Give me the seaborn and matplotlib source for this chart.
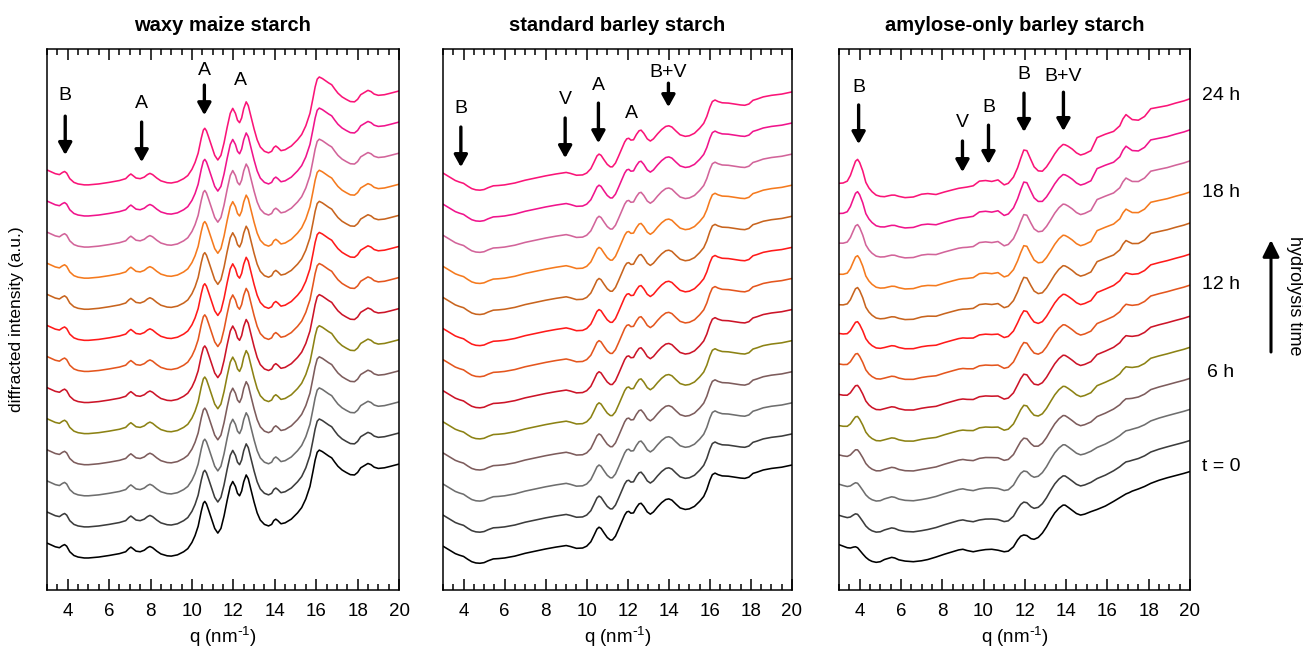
import matplotlib
matplotlib.use("Agg")
import numpy as np
import pandas as pd
import matplotlib.pyplot as plt
import seaborn as sns

# ---------------------------------------------------------------- data
scan_hours = [0, 2, 4, 6, 8, 10, 12, 14, 16, 18, 20, 22, 24]
scan_colors = ["#000000", "#3c3c3c", "#6e6e6e", "#7d5c5c", "#8c8214",
               "#cc1428", "#e4561e", "#ff1a1a", "#c8641e", "#f57a1e",
               "#d2649a", "#f0148c", "#fa1478"]

panel_titles = ["waxy maize starch", "standard barley starch",
                "amylose-only barley starch"]

# waxy maize: diffraction pattern (same for every scan)
waxy_q = [3.0, 3.2, 3.4, 3.6, 3.75, 3.85, 3.95, 4.1, 4.3, 4.5, 4.8, 5.0, 5.5,
          6.0, 6.5, 6.8, 6.95, 7.05, 7.15, 7.3, 7.5, 7.7, 7.85, 7.97, 8.1,
          8.3, 8.5, 8.8, 9.0, 9.3, 9.6, 9.8, 10.0, 10.15, 10.3, 10.45, 10.55,
          10.62, 10.7, 10.8, 10.95, 11.1, 11.25, 11.4, 11.55, 11.7, 11.85,
          11.97, 12.1, 12.2, 12.3, 12.4, 12.5, 12.62, 12.72, 12.85, 13.0,
          13.15, 13.3, 13.5, 13.7, 13.85, 13.95, 14.05, 14.15, 14.3, 14.5,
          14.8, 15.1, 15.3, 15.5, 15.7, 15.85, 15.95, 16.05, 16.15, 16.3,
          16.45, 16.6, 16.75, 16.9, 17.05, 17.25, 17.45, 17.65, 17.85, 18.0,
          18.15, 18.35, 18.5, 18.65, 18.8, 19.0, 19.3, 19.6, 20.0]
waxy_i = [0.48, 0.42, 0.36, 0.33, 0.40, 0.43, 0.38, 0.20, 0.08, 0.03, 0.0,
          0.0, 0.03, 0.08, 0.14, 0.20, 0.30, 0.35, 0.30, 0.22, 0.20, 0.25,
          0.33, 0.37, 0.33, 0.22, 0.13, 0.07, 0.06, 0.10, 0.20, 0.30, 0.50,
          0.72, 1.02, 1.50, 1.76, 1.82, 1.74, 1.55, 1.25, 0.95, 0.80, 0.95,
          1.35, 1.85, 2.30, 2.46, 2.30, 2.08, 2.00, 2.15, 2.45, 2.67, 2.55,
          2.20, 1.80, 1.45, 1.22, 1.08, 1.03, 1.08, 1.20, 1.25, 1.20, 1.10,
          1.13, 1.25, 1.45, 1.62, 1.90, 2.30, 2.80, 3.15, 3.40, 3.47, 3.42,
          3.35, 3.28, 3.22, 3.08, 2.95, 2.83, 2.75, 2.68, 2.67, 2.75, 2.90,
          2.98, 3.04, 3.00, 2.92, 2.88, 2.90, 2.95, 3.02]

# standard barley: diffraction pattern (same for every scan)
std_q = [3.0, 3.2, 3.4, 3.6, 3.8, 4.0, 4.2, 4.4, 4.6, 4.8, 5.0, 5.2, 5.45,
         5.7, 6.0, 6.5, 7.0, 7.5, 8.0, 8.5, 8.8, 9.0, 9.2, 9.5, 9.8, 10.0,
         10.2, 10.35, 10.5, 10.6, 10.7, 10.85, 11.0, 11.15, 11.25, 11.4,
         11.55, 11.7, 11.85, 11.95, 12.05, 12.15, 12.28, 12.42, 12.55, 12.65,
         12.78, 12.95, 13.1, 13.25, 13.45, 13.65, 13.85, 14.0, 14.15, 14.35,
         14.55, 14.8, 15.0, 15.25, 15.5, 15.7, 15.85, 16.0, 16.12, 16.25,
         16.4, 16.6, 16.9, 17.2, 17.5, 17.7, 17.9, 18.1, 18.3, 18.6, 19.0,
         19.5, 20.0]
std_i = [0.38, 0.30, 0.22, 0.14, 0.09, 0.05, -0.04, -0.12, -0.16, -0.17,
         -0.15, -0.09, -0.03, -0.02, 0.0, 0.06, 0.15, 0.22, 0.29, 0.35, 0.38,
         0.40, 0.37, 0.31, 0.32, 0.38, 0.52, 0.72, 0.93, 0.99, 0.95, 0.80,
         0.66, 0.58, 0.58, 0.70, 0.92, 1.15, 1.38, 1.48, 1.50, 1.44, 1.45,
         1.62, 1.74, 1.76, 1.66, 1.48, 1.41, 1.48, 1.64, 1.78, 1.88, 1.90,
         1.86, 1.73, 1.61, 1.56, 1.58, 1.66, 1.82, 1.98, 2.20, 2.50, 2.68,
         2.73, 2.68, 2.64, 2.63, 2.60, 2.57, 2.56, 2.60, 2.72, 2.76, 2.83,
         2.88, 2.92, 2.99]

# amylose-only barley: first (t = 0) and last (24 h) diffraction patterns
amy_q = [3.0, 3.2, 3.4, 3.55, 3.7, 3.8, 3.9, 4.0, 4.15, 4.3, 4.45, 4.6, 4.8,
         5.0, 5.2, 5.4, 5.55, 5.7, 5.9, 6.2, 6.6, 7.0, 7.3, 7.7, 8.1, 8.5,
         8.8, 9.0, 9.2, 9.5, 9.8, 10.1, 10.4, 10.7, 11.0, 11.2, 11.45, 11.65,
         11.8, 11.95, 12.1, 12.3, 12.45, 12.65, 12.85, 13.05, 13.25, 13.45,
         13.65, 13.85, 13.95, 14.1, 14.3, 14.5, 14.7, 14.9, 15.2, 15.5, 15.9,
         16.3, 16.6, 16.75, 16.9, 17.05, 17.2, 17.5, 17.8, 18.1, 18.5, 18.9,
         19.3, 19.7, 20.0]
amy_i_first = [0.43, 0.38, 0.33, 0.32, 0.35, 0.36, 0.33, 0.25, 0.13, 0.02,
               -0.06, -0.11, -0.14, -0.12, -0.05, -0.01, 0.02, 0.0, -0.06,
               -0.10, -0.12, -0.09, -0.05, 0.03, 0.12, 0.20, 0.26, 0.28, 0.24,
               0.20, 0.24, 0.27, 0.28, 0.25, 0.20, 0.22, 0.36, 0.58, 0.70,
               0.74, 0.72, 0.62, 0.60, 0.66, 0.80, 1.00, 1.24, 1.45, 1.60,
               1.70, 1.70, 1.63, 1.53, 1.43, 1.38, 1.41, 1.49, 1.56, 1.67,
               1.82, 1.94, 2.00, 2.06, 2.10, 2.15, 2.22, 2.30, 2.40, 2.50,
               2.58, 2.65, 2.72, 2.78]
amy_i_last = [0.05, 0.06, 0.12, 0.30, 0.58, 0.76, 0.82, 0.72, 0.45, 0.08,
              -0.10, -0.22, -0.33, -0.37, -0.38, -0.35, -0.33, -0.33, -0.37,
              -0.41, -0.39, -0.30, -0.28, -0.31, -0.23, -0.16, -0.11, -0.09,
              -0.07, -0.03, 0.12, 0.14, 0.11, 0.16, 0.0, 0.05, 0.25, 0.55,
              0.85, 1.12, 1.10, 0.80, 0.58, 0.45, 0.44, 0.58, 0.78, 1.00,
              1.18, 1.30, 1.29, 1.24, 1.15, 1.03, 0.96, 1.00, 1.10, 1.52,
              1.63, 1.72, 1.90, 2.12, 2.26, 2.18, 2.10, 2.08, 2.20, 2.45,
              2.50, 2.55, 2.63, 2.70, 2.77]
# how far each scan has moved from the first pattern towards the last one
amy_progress = [0.0, 0.15, 0.15, 0.30, 0.45, 0.45, 0.50, 0.55, 0.75, 0.80,
                0.80, 0.92, 1.0]

# reflection markers: (label, q, with arrow)
waxy_marks = [("B", 3.88, True), ("A", 7.57, True), ("A", 10.6, True),
              ("A", 12.32, False)]
std_marks = [("B", 3.87, True), ("V", 8.95, True), ("A", 10.57, True),
             ("A", 12.2, False), ("B+V", 13.98, True)]
amy_marks = [("B", 3.95, True), ("V", 8.98, True), ("B", 10.24, True),
             ("B", 11.96, True), ("B+V", 13.87, True)]

time_labels = ["t = 0", "6 h", "12 h", "18 h", "24 h"]

# ---------------------------------------------------------------- frames
def stacked_frame(q, patterns):
    rows = []
    for k, (h, pat) in enumerate(zip(scan_hours, patterns)):
        rows.append(pd.DataFrame({"q": q, "intensity": np.asarray(pat) + k,
                                  "scan": f"{h} h"}))
    return pd.concat(rows, ignore_index=True)


waxy_df = stacked_frame(waxy_q, [waxy_i] * len(scan_hours))
std_df = stacked_frame(std_q, [std_i] * len(scan_hours))
amy_patterns = [(1 - p) * np.asarray(amy_i_first) + p * np.asarray(amy_i_last)
                for p in amy_progress]
amy_df = stacked_frame(amy_q, amy_patterns)

# ---------------------------------------------------------------- style
sns.set_style("ticks")
plt.rcParams["font.family"] = ["Liberation Sans", "DejaVu Sans"]
plt.rcParams["mathtext.default"] = "regular"
for key in ["text.color", "axes.labelcolor", "xtick.color", "ytick.color",
            "axes.edgecolor"]:
    plt.rcParams[key] = "black"

fig = plt.figure(figsize=(13.03, 6.51), dpi=100)
ax_rects = [(47, 352), (443, 349), (839, 351)]
axes = []
for left, width in ax_rects:
    axes.append(fig.add_axes([left / 1303, 61 / 651, width / 1303, 541 / 651]))

palette = dict(zip([f"{h} h" for h in scan_hours], scan_colors))

# vertical layout of marker labels / arrows (label y, arrow tail, arrow tip)
mark_layout = [
    [(14.89, 14.21, 12.96), (14.63, 14.02, 12.73), (15.69, 15.21, 14.24),
     (15.37, None, None)],
    [(14.47, 13.86, 12.57), (14.73, 14.15, 12.86), (15.21, 14.63, 13.34),
     (14.31, None, None), (15.63, 15.27, 14.50)],
    [(15.14, 14.57, 13.31), (14.02, 13.41, 12.41), (14.50, 13.92, 12.67),
     (15.56, 14.95, 13.70), (15.47, 14.98, 13.73)],
]

for ax, df, title, marks, layout in zip(
        axes, [waxy_df, std_df, amy_df], panel_titles,
        [waxy_marks, std_marks, amy_marks], mark_layout):
    sns.lineplot(data=df, x="q", y="intensity", hue="scan", palette=palette,
                 estimator=None, legend=False, lw=1.15, ax=ax)
    ax.set_xlim(3, 20)
    ax.set_ylim(-1.03, 16.37)
    ax.set_yticks([])
    ax.set_ylabel("")
    ax.set_xlabel("q (nm$^{\\text{-}1}$)", fontsize=13.5, labelpad=4)
    ax.xaxis.set_major_locator(plt.MultipleLocator(2))
    ax.xaxis.set_minor_locator(plt.MultipleLocator(0.5))
    ax.tick_params(axis="x", which="both", direction="in", top=True,
                   bottom=True, labelsize=13.5, pad=9)
    ax.tick_params(axis="x", which="major", length=8, width=1.1)
    ax.tick_params(axis="x", which="minor", length=4, width=1.1)
    for s in ax.spines.values():
        s.set_visible(True)
        s.set_linewidth(1.1)
    ax.set_title(title, fontsize=14.5, fontweight="bold", pad=13)

    for (text, q, has_arrow), (ty, tail, tip) in zip(marks, layout):
        ax.text(q, ty, text, ha="center", va="center", fontsize=14)
        if has_arrow:
            ax.annotate("", xy=(q, tip), xytext=(q, tail),
                        arrowprops=dict(arrowstyle="-|>,head_length=0.36,head_width=0.2",
                                        lw=2.4, color="black", mutation_scale=20,
                                        shrinkA=0, shrinkB=0))

axes[0].set_ylabel("diffracted intensity (a.u.)", fontsize=12.5)
axes[0].yaxis.set_label_coords(-23 / 352, 0.5)

# time labels next to the last panel
for lab, yv in zip(time_labels, [2.93, 5.95, 8.78, 11.77, 14.86]):
    axes[2].text(21.5, yv, lab, ha="center", va="center", fontsize=14,
                 clip_on=False)

# hydrolysis time arrow
fig.patches.append(matplotlib.patches.FancyArrowPatch(
    (1271 / 1303, 1 - 352 / 651), (1271 / 1303, 1 - 240 / 651),
    transform=fig.transFigure, arrowstyle="-|>,head_length=0.5,head_width=0.25",
    mutation_scale=20, lw=2.2, color="black", shrinkA=0, shrinkB=0))
fig.text(1294 / 1303, 1 - 296 / 651, "hydrolysis time", rotation=270,
         ha="center", va="center", fontsize=13)

fig.savefig("out.png", dpi=100)
